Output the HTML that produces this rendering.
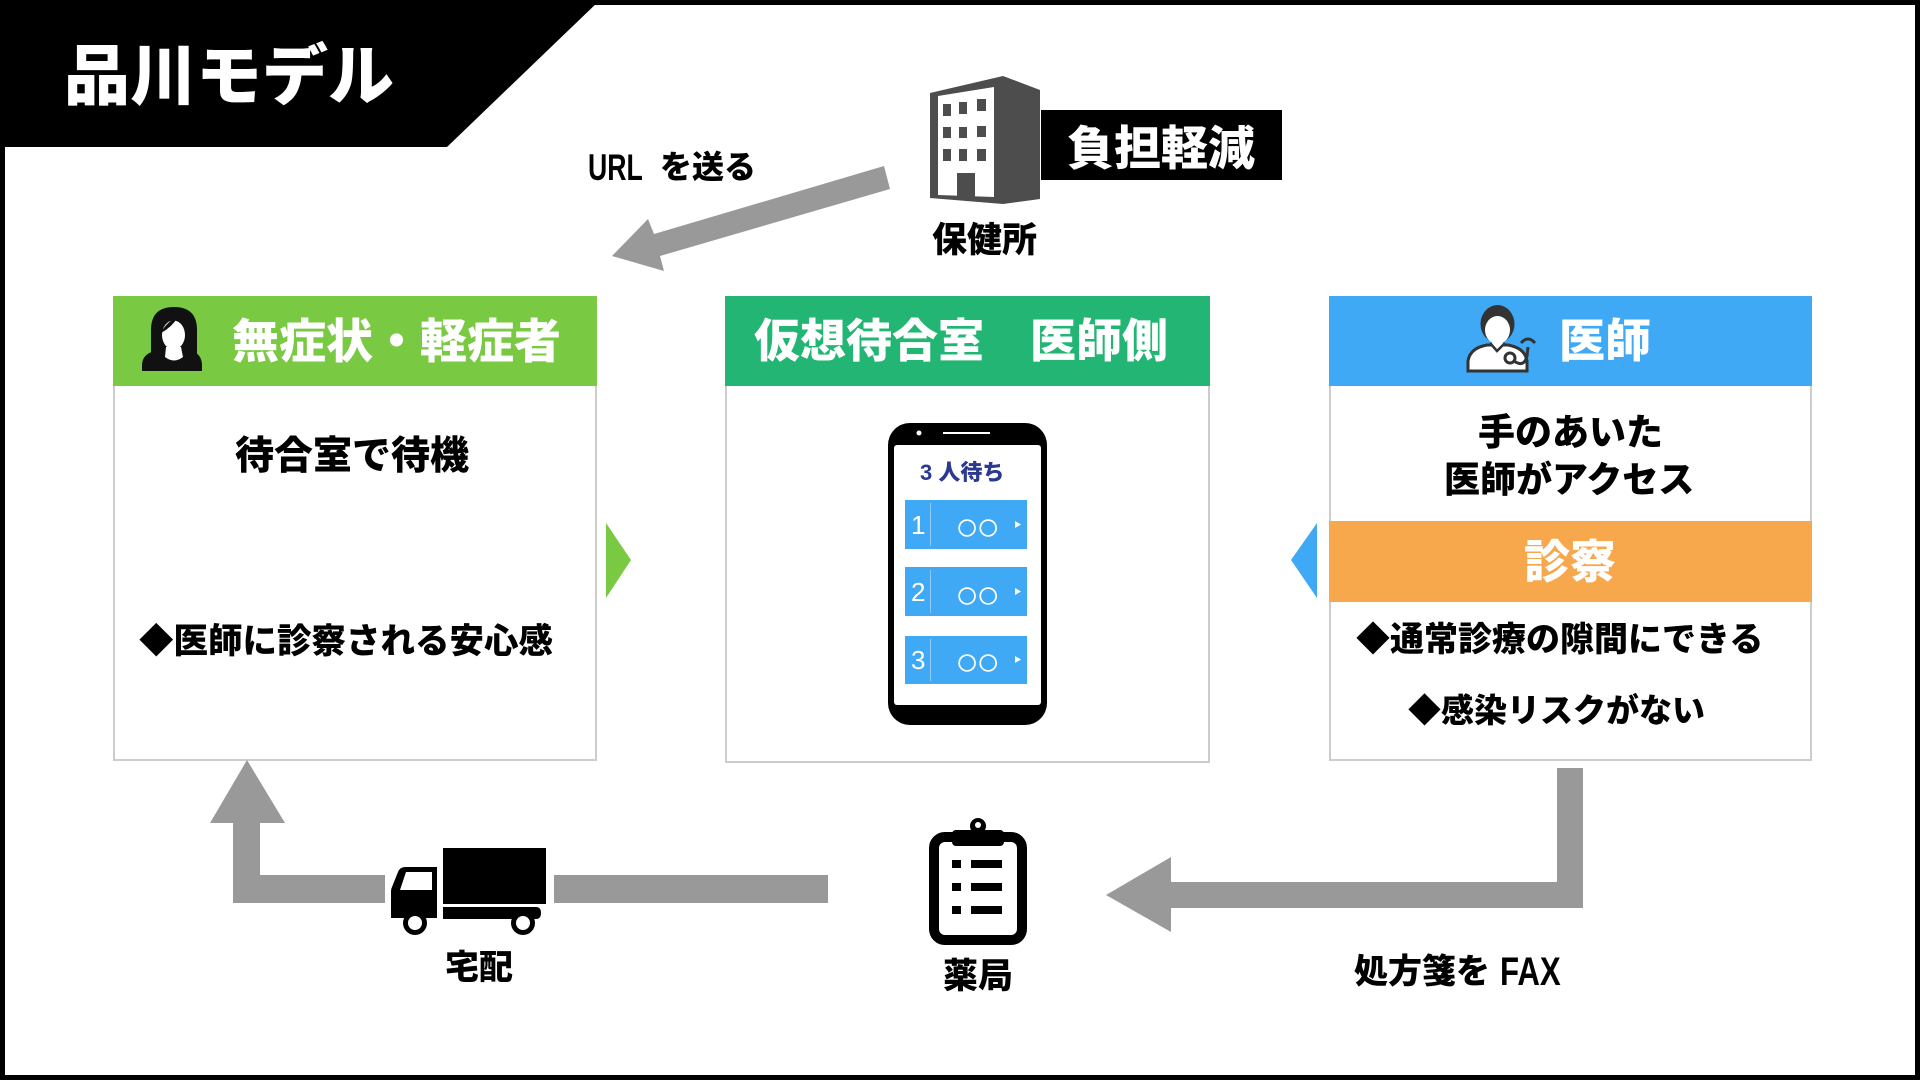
<!DOCTYPE html>
<html lang="ja">
<head>
<meta charset="utf-8">
<style>
  html,body{margin:0;padding:0;}
  body{width:1920px;height:1080px;position:relative;overflow:hidden;background:#fff;
       font-family:"Liberation Sans","Noto Sans CJK JP",sans-serif;}
  .frame{position:absolute;left:0;top:0;width:1920px;height:1080px;box-sizing:border-box;border:5px solid #000;}
  svg.bg{position:absolute;left:0;top:0;}
  .t{position:absolute;line-height:1;white-space:nowrap;font-weight:900;color:#000;
     font-family:"Liberation Sans","Noto Sans CJK JP",sans-serif;}
  .w{color:#fff;}
  .cond{transform-origin:0 0;}
  .oo{font-size:40px;font-weight:700;letter-spacing:-3px;}
</style>
</head>
<body>
<svg class="bg" width="1920" height="1080" viewBox="0 0 1920 1080" xmlns="http://www.w3.org/2000/svg">
  <!-- header black polygon -->
  <polygon points="0,0 600,0 447,147 0,147" fill="#000"/>

  <!-- URL arrow -->
  <polygon points="884,166 654,234 648,219 612,256 664,271 660,256 890,189" fill="#999"/>

  <!-- building -->
  <polygon points="930,93 1003,76 1040,90 1040,199 1003,204 930,198" fill="#4d4d4d"/>
  <polygon points="938,96 994,87 994,197 938,195" fill="#fff"/>
  <g fill="#4d4d4d">
    <rect x="943" y="104" width="8" height="12"/>
    <rect x="959" y="102" width="8" height="12"/>
    <rect x="977" y="99" width="9" height="12"/>
    <rect x="943" y="127" width="8" height="11"/>
    <rect x="959" y="127" width="8" height="11"/>
    <rect x="977" y="126" width="9" height="11"/>
    <rect x="943" y="149" width="8" height="12"/>
    <rect x="959" y="149" width="8" height="12"/>
    <rect x="977" y="149" width="9" height="12"/>
    <rect x="957" y="173" width="18" height="25"/>
  </g>
  <!-- 負担軽減 box -->
  <rect x="1041" y="110" width="241" height="70" fill="#000"/>

  <!-- Box 1 -->
  <rect x="114" y="297" width="482" height="463" fill="#fff" stroke="#cccccc" stroke-width="2"/>
  <rect x="113" y="296" width="484" height="90" fill="#7ac943"/>
  <!-- Box 2 -->
  <rect x="726" y="297" width="483" height="465" fill="#fff" stroke="#cccccc" stroke-width="2"/>
  <rect x="725" y="296" width="485" height="90" fill="#22b573"/>
  <!-- Box 3 -->
  <rect x="1330" y="297" width="481" height="463" fill="#fff" stroke="#cccccc" stroke-width="2"/>
  <rect x="1329" y="296" width="483" height="90" fill="#3fa9f5"/>
  <rect x="1329" y="521" width="483" height="81" fill="#f7a84c"/>

  <!-- side triangles -->
  <polygon points="606,523 631,560 606,598" fill="#7ac943"/>
  <polygon points="1317,523 1291,560 1317,598" fill="#3fa9f5"/>

  <!-- woman icon -->
  <path d="M142,371 L142,364 Q143,352 160,350 L188,350 Q201,352 202,364 L202,371 Z" fill="#111"/>
  <path d="M151,356 L151,330 Q151,307 174,307 Q197,307 197,330 L197,356 Z" fill="#111"/>
  <ellipse cx="173.5" cy="335" rx="11.5" ry="14.5" fill="#fff"/>
  <path d="M161,332 Q162,316 176,315 Q187,317 187,334 L188,322 Q185,311 174,311 Q160,312 160,332 Z" fill="#111"/>
  <path d="M161,333 Q166,322 178,317 Q172,327 161,333 Z" fill="#111"/>
  <path d="M166,347 L181,347 L183,357 Q174,364 165,357 Z" fill="#fff"/>

  <!-- doctor icon -->
  <path d="M1468,371 L1468,361 Q1470,348 1487,345 L1508,345 Q1525,348 1527,361 L1527,371 Z" fill="#fff" stroke="#333" stroke-width="3"/>
  <ellipse cx="1497.5" cy="324" rx="17" ry="19" fill="#333"/>
  <ellipse cx="1497.5" cy="330" rx="12.5" ry="14" fill="#fff"/>
  <path d="M1490,343 L1497,351 L1505,343" fill="#fff" stroke="#333" stroke-width="2.5"/>
  <path d="M1514,361 Q1524,368 1527,356 L1528,347" fill="none" stroke="#333" stroke-width="3"/>
  <path d="M1521,343 Q1528,335 1535,343" fill="none" stroke="#333" stroke-width="3"/>
  <circle cx="1510" cy="358" r="5" fill="#fff" stroke="#333" stroke-width="3"/>

  <!-- phone -->
  <rect x="888" y="423" width="159" height="302" rx="22" fill="#000"/>
  <rect x="894" y="445" width="147" height="260" rx="3" fill="#fff"/>
  <line x1="943" y1="433" x2="990" y2="433" stroke="#fff" stroke-width="2"/>
  <circle cx="919" cy="433" r="2.5" fill="#fff"/>
  <g>
    <rect x="905" y="500" width="122" height="49" fill="#3fa9f5"/>
    <rect x="905" y="567" width="122" height="49" fill="#3fa9f5"/>
    <rect x="905" y="636" width="122" height="48" fill="#3fa9f5"/>
    <g stroke="#8ccaf8" stroke-width="1">
      <line x1="930.5" y1="503" x2="930.5" y2="546"/>
      <line x1="930.5" y1="570" x2="930.5" y2="613"/>
      <line x1="930.5" y1="639" x2="930.5" y2="681"/>
    </g>
    <g fill="#fff">
      <polygon points="1015,521 1021,524.5 1015,528"/>
      <polygon points="1015,588 1021,591.5 1015,595"/>
      <polygon points="1015,656 1021,659.5 1015,663"/>
    </g>
  </g>

  <!-- left L arrow -->
  <polygon points="247,760 285,823 260,823 260,875 385,875 385,903 233,903 233,823 210,823" fill="#999"/>
  <rect x="554" y="875" width="274" height="28" fill="#999"/>

  <!-- truck -->
  <rect x="443" y="848" width="103" height="56" fill="#000"/>
  <path d="M443,907 L536,907 Q541,907 541,913 Q541,919 536,919 L443,919 Z" fill="#000"/>
  <path d="M437,867 L405,867 Q400,867 398,872 L392,887 Q391,889 391,892 L391,918 L437,918 Z" fill="#000"/>
  <path d="M432,872 L406,872 L400,890 L432,890 Z" fill="#fff"/>
  <circle cx="415" cy="923" r="12" fill="#000"/>
  <circle cx="415" cy="923" r="7" fill="#fff"/>
  <circle cx="523" cy="923" r="12" fill="#000"/>
  <circle cx="523" cy="923" r="7" fill="#fff"/>

  <!-- clipboard -->
  <rect x="934" y="837" width="88" height="103" rx="11" fill="#fff" stroke="#000" stroke-width="10"/>
  <rect x="952" y="830" width="52" height="16" rx="4" fill="#000"/>
  <circle cx="978" cy="826" r="8" fill="#000"/>
  <circle cx="978" cy="825" r="3" fill="#fff"/>
  <g fill="#000">
    <rect x="952" y="860" width="9" height="8"/>
    <rect x="971" y="860" width="31" height="8"/>
    <rect x="952" y="883" width="9" height="8"/>
    <rect x="971" y="883" width="31" height="8"/>
    <rect x="952" y="906" width="9" height="8"/>
    <rect x="971" y="906" width="31" height="8"/>
  </g>

  <!-- right L arrow -->
  <polygon points="1557,768 1583,768 1583,908 1171,908 1171,932 1106,895 1171,857 1171,882 1557,882" fill="#999"/>
</svg>

<div class="frame"></div>

<!-- texts -->
<div class="t w" style="left:64px;top:43px;font-size:66px;">品川モデル</div>

<div class="t cond" style="left:588px;top:149px;font-size:37px;font-weight:700;transform:scaleX(0.72);">URL</div>
<div class="t" style="left:660px;top:151px;font-size:32px;">を送る</div>

<div class="t w" style="left:1067px;top:125px;font-size:47px;">負担軽減</div>
<div class="t" style="left:932px;top:223px;font-size:35px;">保健所</div>

<div class="t w" style="left:232px;top:318px;font-size:47px;">無症状・軽症者</div>
<div class="t w" style="left:754px;top:318px;font-size:46px;">仮想待合室　医師側</div>
<div class="t w" style="left:1559px;top:318px;font-size:46px;">医師</div>

<div class="t" style="left:235px;top:437px;font-size:39px;">待合室で待機</div>
<div class="t" style="left:139px;top:625px;font-size:34.5px;">◆医師に診察される安心感</div>

<div class="t" style="left:920px;top:462px;font-size:22px;color:#2b3990;">3 人待ち</div>
<div class="t w" style="left:911px;top:512px;font-size:26px;font-weight:400;">1</div>
<div class="t w" style="left:911px;top:579px;font-size:26px;font-weight:400;">2</div>
<div class="t w" style="left:911px;top:647px;font-size:26px;font-weight:400;">3</div>
<div class="t w oo" style="left:955px;top:507px;">○○</div>
<div class="t w oo" style="left:955px;top:575px;">○○</div>
<div class="t w oo" style="left:955px;top:642px;">○○</div>

<div class="t" style="left:1478px;top:414px;font-size:37px;">手のあいた</div>
<div class="t" style="left:1444px;top:462px;font-size:36px;">医師がアクセス</div>
<div class="t w" style="left:1524px;top:539px;font-size:46px;">診察</div>
<div class="t" style="left:1356px;top:623px;font-size:34px;">◆通常診療の隙間にできる</div>
<div class="t" style="left:1408px;top:694px;font-size:33px;">◆感染リスクがない</div>

<div class="t" style="left:445px;top:951px;font-size:34px;">宅配</div>
<div class="t" style="left:943px;top:959px;font-size:35px;">薬局</div>
<div class="t" style="left:1354px;top:955px;font-size:34px;">処方箋を</div>
<div class="t cond" style="left:1500px;top:952px;font-size:40px;font-weight:700;transform:scaleX(0.78);">FAX</div>
</body>
</html>
